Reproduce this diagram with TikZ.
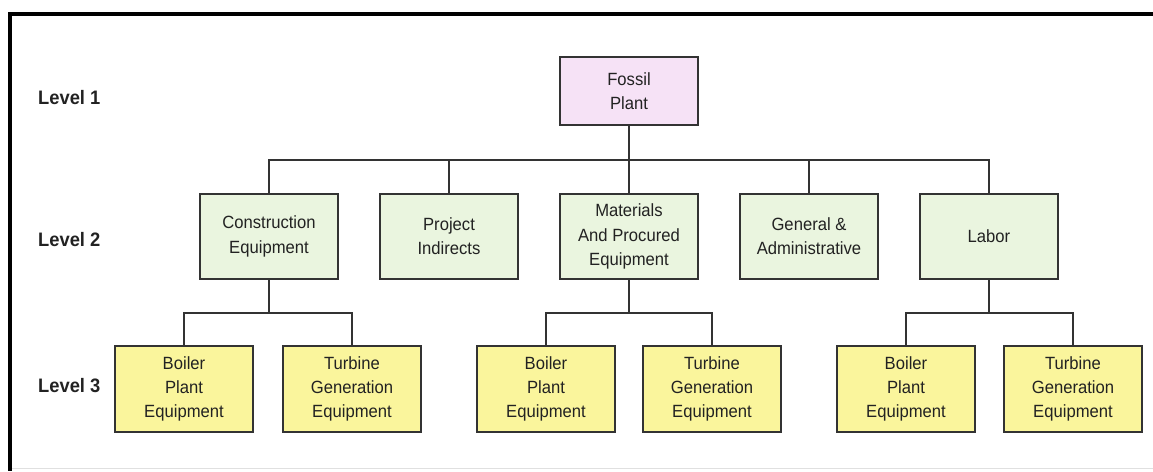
\documentclass[tikz,border=0pt]{standalone}
\usepackage{fontspec}
\setmainfont{Liberation Sans}
\newfontfamily\boxfont[FakeStretch=0.94]{Liberation Sans}
\definecolor{pinkfill}{HTML}{F6E2F6}
\definecolor{greenfill}{HTML}{EAF5DF}
\definecolor{yellowfill}{HTML}{FAF59C}
\definecolor{edgecol}{HTML}{333333}
\definecolor{txtcol}{HTML}{222222}
\tikzset{
  box/.style={draw=edgecol, line width=1.6pt, minimum width=138pt, align=center,
    text=txtcol, font=\boxfont\fontsize{17.7}{24.3}\selectfont, inner sep=0pt},
  lvone/.style={box, fill=pinkfill, minimum height=68pt},
  lvtwo/.style={box, fill=greenfill, minimum height=85pt},
  lvthree/.style={box, fill=yellowfill, minimum height=86pt},
  lvlabel/.style={anchor=west, font=\boxfont\fontsize{19.5}{22}\selectfont\bfseries, text=txtcol, inner sep=0pt},
  conn/.style={draw=edgecol, line width=1.6pt}
}
\begin{document}
\begin{tikzpicture}[x=1pt,y=-1pt]
\useasboundingbox (0,0) rectangle (1153,471);
% frame
\draw[line width=4pt, black] (1153,14) -- (10,14) -- (10,471);
\draw[line width=0.8pt, black!12] (12,468) -- (1153,468);

% level labels
\node[lvlabel] (l1) at (38,98) {Level 1};
\node[lvlabel] (l2) at (38,240) {Level 2};
\node[lvlabel] (l3) at (38,386) {Level 3};

% level 1
\node[lvone] (fp) at (629,91) {Fossil\\Plant};

% level 2
\node[lvtwo] (ce) at (269,236.5) {Construction\\Equipment};
\node[lvtwo] (pi) at (449,236.5) {Project\\Indirects};
\node[lvtwo] (mp) at (629,236.5) {Materials\\And Procured\\Equipment};
\node[lvtwo] (ga) at (809,236.5) {General \&\\Administrative};
\node[lvtwo] (la) at (989,236.5) {Labor};

% level 3
\node[lvthree] (bp1) at (184,389) {Boiler\\Plant\\Equipment};
\node[lvthree] (tg1) at (352,389) {Turbine\\Generation\\Equipment};
\node[lvthree] (bp2) at (546,389) {Boiler\\Plant\\Equipment};
\node[lvthree] (tg2) at (712,389) {Turbine\\Generation\\Equipment};
\node[lvthree] (bp3) at (906,389) {Boiler\\Plant\\Equipment};
\node[lvthree] (tg3) at (1073,389) {Turbine\\Generation\\Equipment};

\coordinate (bus1) at (0,160);
\coordinate (bus2) at (0,313);

% level 1 -> level 2
\draw[conn] (fp.south) -- (mp.north);
\draw[conn] (ce.north) -- (ce.north |- bus1) -- (la.north |- bus1) -- (la.north);
\draw[conn] (pi.north) -- (pi.north |- bus1);
\draw[conn] (ga.north) -- (ga.north |- bus1);

% level 2 -> level 3
\draw[conn] (ce.south) -- (ce.south |- bus2);
\draw[conn] (bp1.north) -- (bp1.north |- bus2) -- (tg1.north |- bus2) -- (tg1.north);
\draw[conn] (mp.south) -- (mp.south |- bus2);
\draw[conn] (bp2.north) -- (bp2.north |- bus2) -- (tg2.north |- bus2) -- (tg2.north);
\draw[conn] (la.south) -- (la.south |- bus2);
\draw[conn] (bp3.north) -- (bp3.north |- bus2) -- (tg3.north |- bus2) -- (tg3.north);
\end{tikzpicture}
\end{document}
